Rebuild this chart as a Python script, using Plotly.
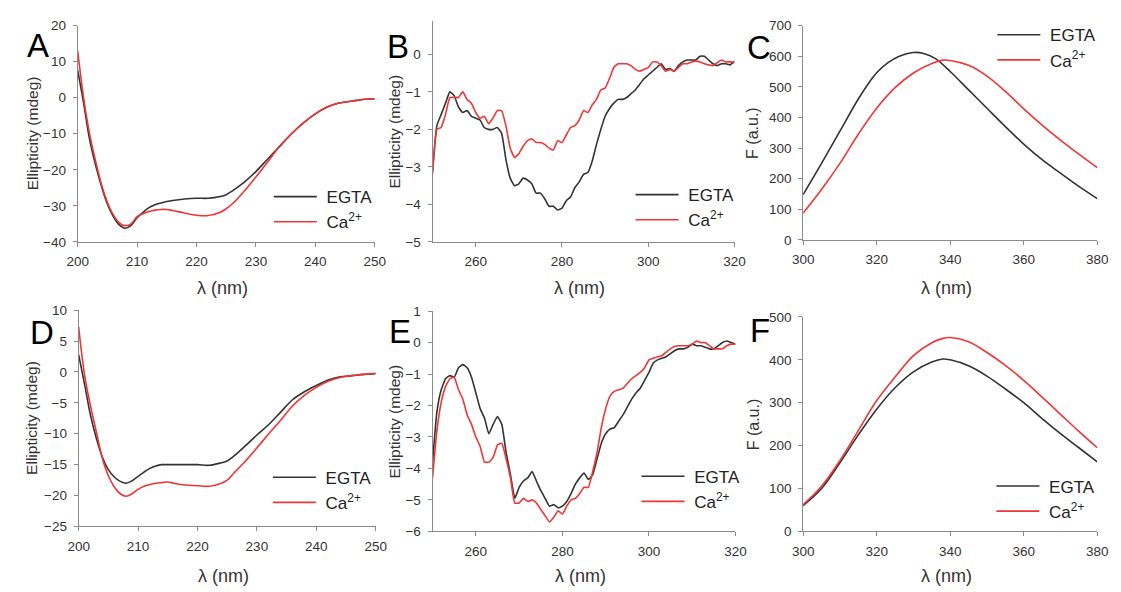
import plotly.graph_objects as go

W, H = 1121, 592

# ---------------- data ----------------
wl_A = [200,201,202,203,204,205,206,207,208,209,210,211,212,213,214,215,216,218,220,222,224,225,226,228,230,232,234,236,238,240,242,244,246,248,250]
a_egta = [7.6,-1.5,-11.5,-18.6,-24.5,-29.5,-33,-35.3,-36.2,-35.4,-33.3,-31.8,-30.5,-29.7,-29.2,-28.8,-28.5,-28.1,-27.9,-27.9,-27.4,-26.9,-25.9,-23.5,-20.5,-17,-13.5,-10,-7,-4.5,-2.6,-1.5,-1,-0.5,-0.3]
a_ca = [13,0,-10,-17.5,-24,-29,-32.5,-34.7,-35.5,-35,-33,-32.2,-31.6,-31.2,-31,-31,-31.3,-32,-32.6,-32.7,-31.8,-30.8,-29.5,-26,-22,-17.8,-13.5,-10,-7,-4.5,-2.6,-1.5,-1,-0.5,-0.3]

wl_B = list(range(250, 321))
b_egta = [-3.1,-1.9,-1.6,-1.3,-1.0,-1.1,-1.4,-1.55,-1.5,-1.65,
          -1.7,-1.75,-1.95,-2.0,-2.0,-1.95,-2.1,-2.8,-3.3,-3.5,
          -3.45,-3.3,-3.35,-3.45,-3.7,-3.7,-3.85,-4.05,-4.05,-4.15,
          -4.1,-3.9,-3.8,-3.55,-3.4,-3.2,-3.15,-2.85,-2.4,-2.0,
          -1.65,-1.45,-1.3,-1.2,-1.2,-1.15,-1.05,-0.95,-0.8,-0.65,
          -0.55,-0.45,-0.35,-0.25,-0.4,-0.38,-0.45,-0.3,-0.2,-0.15,
          -0.15,-0.15,-0.05,-0.05,-0.15,-0.25,-0.3,-0.25,-0.25,-0.28,
          -0.18]
b_ca = [-3.2,-2.0,-1.95,-1.6,-1.15,-1.15,-1.15,-1.0,-1.2,-1.3,
        -1.55,-1.7,-1.65,-1.85,-1.7,-1.5,-1.5,-1.9,-2.5,-2.75,
        -2.65,-2.45,-2.3,-2.25,-2.35,-2.35,-2.4,-2.5,-2.55,-2.3,
        -2.35,-2.15,-1.95,-1.9,-1.75,-1.5,-1.55,-1.35,-1.2,-0.95,
        -0.9,-0.65,-0.35,-0.25,-0.25,-0.25,-0.3,-0.4,-0.45,-0.4,
        -0.35,-0.2,-0.2,-0.3,-0.45,-0.4,-0.45,-0.35,-0.25,-0.25,
        -0.2,-0.18,-0.2,-0.25,-0.28,-0.3,-0.22,-0.15,-0.2,-0.2,
        -0.22]

wl_C = [300,305,310,315,318,320,323,326,330,333,336,340,345,350,355,360,365,370,375,380]
c_egta = [148,250,355,460,515,546,578,599,612,608,592,550,490,430,370,313,262,218,175,135]
wl_C2 = [300,305,310,315,320,325,330,335,338,340,345,350,355,360,365,370,375,380]
c_ca = [88,165,250,345,430,497,545,576,587,586,570,535,485,428,375,326,280,236]

wl_D = [200,201,202,203,204,205,206,207,208,209,210,211,212,213,214,215,216,218,220,222,224,225,226,228,230,232,234,236,238,240,242,244,246,248,250]
d_egta = [2.8,-2,-7,-10.8,-13.8,-15.8,-17,-17.7,-18,-17.6,-16.9,-16.2,-15.6,-15.2,-15,-15,-15,-15,-15,-15.1,-14.7,-14.4,-13.7,-12,-10.2,-8.5,-6.5,-4.5,-3.2,-2.2,-1.3,-0.8,-0.6,-0.4,-0.3]
d_ca = [7.3,-0.5,-5.5,-9.8,-14,-16.8,-18.6,-19.7,-20.1,-19.7,-19,-18.5,-18.2,-18,-17.9,-17.8,-18,-18.3,-18.4,-18.5,-18,-17.5,-16.5,-14.5,-12.3,-10,-7.8,-5.5,-3.8,-2.5,-1.5,-0.9,-0.6,-0.4,-0.2]

wl_E = list(range(250, 321))
e_egta = [-3.8,-2.2,-1.5,-1.15,-1.05,-1.1,-0.8,-0.7,-0.8,-1.1,
          -1.6,-2.1,-2.4,-2.9,-2.6,-2.35,-2.6,-3.5,-4.2,-4.95,
          -4.6,-4.4,-4.3,-4.1,-4.4,-4.7,-4.95,-5.2,-5.15,-5.25,
          -5.2,-5.05,-4.8,-4.5,-4.3,-4.15,-4.35,-4.2,-3.7,-3.2,
          -2.9,-2.75,-2.7,-2.5,-2.3,-2.05,-1.8,-1.6,-1.45,-1.2,
          -0.95,-0.65,-0.55,-0.5,-0.45,-0.35,-0.25,-0.2,-0.2,-0.15,
          -0.05,-0.1,-0.1,-0.15,-0.2,-0.2,-0.1,0.0,0.05,0.0,
          -0.05]
e_ca = [-4.3,-2.8,-1.9,-1.4,-1.15,-1.1,-1.5,-1.8,-2.3,-2.6,
        -3.0,-3.3,-3.8,-3.8,-3.65,-3.25,-3.2,-3.7,-4.3,-5.1,
        -5.1,-4.95,-5.05,-5.0,-5.1,-5.3,-5.5,-5.7,-5.55,-5.35,
        -5.45,-5.2,-5.0,-4.95,-4.8,-4.6,-4.6,-4.1,-3.5,-2.7,
        -2.1,-1.7,-1.55,-1.5,-1.45,-1.3,-1.15,-1.05,-0.95,-0.8,
        -0.55,-0.5,-0.45,-0.42,-0.3,-0.2,-0.12,-0.1,-0.1,-0.1,
        -0.05,0.05,0.0,0.0,-0.1,-0.2,-0.2,-0.2,-0.1,-0.05,
        -0.05]

wl_F = [300,305,310,315,320,325,330,335,338,340,345,350,355,360,365,370,375,380]
f_egta = [60,100,160,225,285,335,372,395,402,400,386,362,332,300,263,228,195,162]
f_ca = [62,105,165,235,305,360,410,440,450,452,442,417,387,352,313,273,233,195]

series_names = ["\u00a0EGTA", "\u00a0Ca<sup>2+</sup>"]
panel_letters = ["A", "B", "C", "D", "E", "F"]
x_title = "λ (nm)"
y_titles = ["Ellipticity (mdeg)", "Ellipticity (mdeg)", "F (a.u.)",
            "Ellipticity (mdeg)", "Ellipticity (mdeg)", "F (a.u.)"]

# ---------------- layout helpers ----------------
BLACK = "#333333"
RED = "#f03535"
AX = "#8a8a8a"
FONT = "Liberation Sans, Arial, sans-serif"

def px_x(p):
    return p / W

def px_y(p):
    return 1 - p / H

# (left, right, top, bottom) in pixels
boxes = [
    (68, 371, 19, 241),
    (430, 738, 14, 241),
    (808, 1108, 19, 239),
    (69, 372, 311, 533),
    (430, 739, 312, 538),
    (808, 1108, 318, 538),
]
xranges = [[200, 250], [250, 320], [300, 380], [200, 250], [250, 320], [300, 380]]
xticks = [[200, 210, 220, 230, 240, 250], [260, 280, 300, 320], [300, 320, 340, 360, 380],
          [200, 210, 220, 230, 240, 250], [260, 280, 300, 320], [300, 320, 340, 360, 380]]
yranges = [[-40, 20], [-5, 0.9], [0, 700], [-25, 10], [-6, 1], [0, 500]]
yticks = [list(range(-40, 21, 10)), list(range(-5, 1)), list(range(0, 701, 100)),
          list(range(-25, 11, 5)), list(range(-6, 2)), list(range(0, 501, 100))]
data = [(wl_A, a_egta, wl_A, a_ca), (wl_B, b_egta, wl_B, b_ca), (wl_C, c_egta, wl_C2, c_ca),
        (wl_D, d_egta, wl_D, d_ca), (wl_E, e_egta, wl_E, e_ca), (wl_F, f_egta, wl_F, f_ca)]
smooth = [1.0, 0.4, 1.0, 1.0, 0.4, 1.0]
# legend first-row line start (x px) and row centre (y px)
leg_pos = [(268, 194), (637, 192), (1006, 28), (267, 482), (643, 481), (1005, 491)]
letter_pos = [(14, 40), (381, 41), (749, 42), (17, 334), (384, 333), (752, 332)]
ytitle_x = [22, 391, 757, 21, 391, 757]
xtitle_y = [288, 288, 288, 584, 584, 584]

fig = go.Figure()
layout = dict(
    width=W, height=H,
    margin=dict(l=0, r=0, t=0, b=0),
    paper_bgcolor="white", plot_bgcolor="white",
    font=dict(family=FONT, color="#333333", size=13),
    annotations=[],
)

for i in range(6):
    n = "" if i == 0 else str(i + 1)
    xa, ya = "x" + n, "y" + n
    lg = "legend" + n
    wl1, eg, wl2, ca = data[i]
    for name, xs, vals, col in ((series_names[0], wl1, eg, BLACK), (series_names[1], wl2, ca, RED)):
        fig.add_trace(go.Scatter(
            x=xs, y=vals, mode="lines", name=name,
            line=dict(color=col, width=1.6, shape="spline", smoothing=smooth[i]),
            xaxis=xa, yaxis=ya, legend=lg, showlegend=True, hoverinfo="skip"))
    l, r, t, b = boxes[i]
    layout["xaxis" + n] = dict(
        domain=[px_x(l), px_x(r)], range=xranges[i], tickvals=xticks[i],
        anchor=ya, showline=True, linecolor=AX, linewidth=1, ticks="outside",
        ticklen=4, tickcolor=AX, showgrid=False, zeroline=False, ticklabelstandoff=3,
        tickfont=dict(size=13.5, color="#333333", family=FONT), fixedrange=True)
    layout["yaxis" + n] = dict(
        domain=[px_y(b), px_y(t)], range=yranges[i], tickvals=yticks[i],
        anchor=xa, showline=True, linecolor=AX, linewidth=1, ticks="outside",
        ticklen=4, tickcolor=AX, showgrid=False, zeroline=False, ticklabelstandoff=4,
        tickfont=dict(size=13.5, color="#333333", family=FONT), fixedrange=True)
    lx, ly = leg_pos[i]
    layout[lg] = dict(
        x=px_x(lx - 5), y=px_y(ly - 17.5), xanchor="left", yanchor="top",
        bgcolor="rgba(0,0,0,0)", borderwidth=0, itemwidth=43,
        font=dict(size=17, color="#222222", family=FONT),
        tracegroupgap=0)
    # panel letter
    px, py = letter_pos[i]
    layout["annotations"].append(dict(
        text=panel_letters[i], xref="paper", yref="paper",
        x=px_x(px), y=px_y(py), xanchor="left", yanchor="middle",
        showarrow=False, font=dict(size=33, color="black", family=FONT)))
    # x title
    layout["annotations"].append(dict(
        text=x_title, xref="paper", yref="paper",
        x=px_x((l + r) / 2 - 4), y=px_y(xtitle_y[i]), xanchor="center", yanchor="middle",
        showarrow=False, font=dict(size=18, color="#333333", family=FONT)))
    # y title
    layout["annotations"].append(dict(
        text=y_titles[i], xref="paper", yref="paper", textangle=-90,
        x=px_x(ytitle_x[i]), y=px_y((t + b) / 2), xanchor="center", yanchor="middle",
        showarrow=False, font=dict(size=16 if "F" in y_titles[i] else 15.5, color="#333333", family=FONT)))

fig.update_layout(**layout)
fig.write_html("out.html")
